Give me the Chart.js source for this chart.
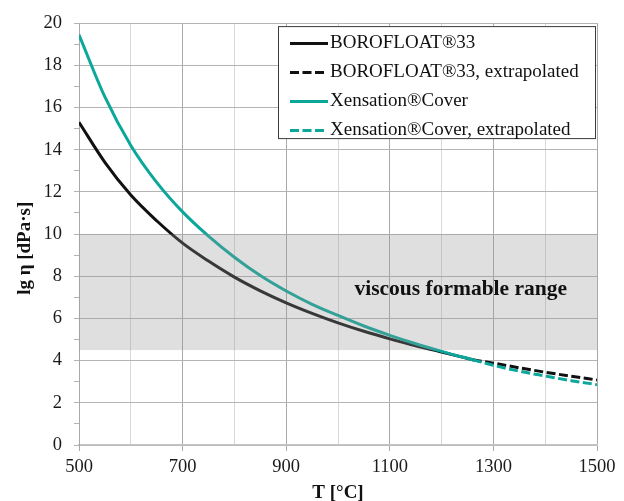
<!DOCTYPE html>
<html>
<head>
<meta charset="utf-8">
<script src="https://cdn.jsdelivr.net/npm/chart.js@4.4.1/dist/chart.umd.min.js"></script>
<style>
  html, body { margin: 0; padding: 0; background: #fff; }
  #wrap { width: 624px; height: 501px; }
</style>
</head>
<body>
<div id="wrap"><canvas id="viscChart" width="624" height="501"></canvas></div>
<script>
// Data
const tempsMeasured = [500, 550, 600, 650, 700, 750, 800, 850, 900, 950, 1000, 1050, 1100, 1150, 1200, 1260];
const boroMeasured = [15.3, 13.4, 11.85, 10.63, 9.57, 8.72, 7.96, 7.31, 6.74, 6.24, 5.79, 5.39, 5.03, 4.7, 4.41, 4.04];
const xenMeasured = [19.45, 16.5, 14.2, 12.45, 11.05, 9.9, 8.9, 8.03, 7.3, 6.67, 6.14, 5.64, 5.2, 4.8, 4.44, 4.04];

const tempsExtrap = [1260, 1300, 1350, 1400, 1450, 1500];
const boroExtrap = [4.04, 3.88, 3.66, 3.45, 3.26, 3.08];
const xenExtrap = [4.04, 3.78, 3.5, 3.27, 3.05, 2.86];

const seriesLabels = [
  "BOROFLOAT®33",
  "BOROFLOAT®33, extrapolated",
  "Xensation®Cover",
  "Xensation®Cover, extrapolated",
];
const formableRange = [4.5, 10];
const xTickLabels = [500, 700, 900, 1100, 1300, 1500];
const yTickLabels = [0, 2, 4, 6, 8, 10, 12, 14, 16, 18, 20];

// Styles
const SERIF = '"Liberation Serif", "Times New Roman", serif';
const BLACK = "#111111";
const TEAL = "#0ba79b";
const DASH = [9, 3.5];

function toPoints(xs, ys) {
  return xs.map((x, i) => ({ x: x, y: ys[i] }));
}

// Grey band + its label, laid over the curves
const bandPlugin = {
  id: "band",
  afterDatasetsDraw(chart) {
    const { ctx, chartArea, scales } = chart;
    const yTop = scales.y.getPixelForValue(formableRange[1]);
    const yBot = scales.y.getPixelForValue(formableRange[0]);
    ctx.save();
    ctx.fillStyle = "rgba(150,150,150,0.3)";
    ctx.fillRect(chartArea.left, yTop, chartArea.right - chartArea.left, yBot - yTop);
    ctx.font = "bold 21.5px " + SERIF;
    ctx.fillStyle = "#111";
    ctx.textAlign = "center";
    ctx.textBaseline = "middle";
    ctx.fillText("viscous formable range", scales.x.getPixelForValue(1237), scales.y.getPixelForValue(7.35));
    ctx.restore();
  },
};

// Boxed legend in the top right corner
const legendPlugin = {
  id: "boxLegend",
  afterDraw(chart) {
    const { ctx, chartArea } = chart;
    const w = 318, h = 113;
    const left = chartArea.right - 1 - w;
    const top = chartArea.top + 3;
    ctx.save();
    ctx.fillStyle = "#fff";
    ctx.fillRect(left, top, w, h);
    ctx.strokeStyle = "#3a3a3a";
    ctx.lineWidth = 1;
    ctx.strokeRect(left + 0.5, top + 0.5, w - 1, h - 1);
    ctx.font = "19px " + SERIF;
    ctx.textBaseline = "middle";
    chart.data.datasets.forEach((ds, i) => {
      const y = Math.round(top + 17 + i * 28.9) + 0.5;
      ctx.strokeStyle = ds.borderColor;
      ctx.lineWidth = 3;
      ctx.lineCap = "butt";
      ctx.setLineDash(ds.borderDash || []);
      ctx.beginPath();
      ctx.moveTo(left + 12, y);
      ctx.lineTo(left + (ds.borderDash ? 46 : 50), y);
      ctx.stroke();
      ctx.setLineDash([]);
      ctx.fillStyle = "#111";
      ctx.fillText(ds.label, left + 52, y);
    });
    ctx.restore();
  },
};

new Chart(document.getElementById("viscChart"), {
  type: "line",
  data: {
    datasets: [
      { label: seriesLabels[0], data: toPoints(tempsMeasured, boroMeasured), borderColor: BLACK, order: 3 },
      { label: seriesLabels[1], data: toPoints(tempsExtrap, boroExtrap), borderColor: BLACK, borderDash: DASH, order: 2 },
      { label: seriesLabels[2], data: toPoints(tempsMeasured, xenMeasured), borderColor: TEAL, order: 1 },
      { label: seriesLabels[3], data: toPoints(tempsExtrap, xenExtrap), borderColor: TEAL, borderDash: DASH, order: 0 },
    ],
  },
  options: {
    responsive: false,
    animation: false,
    layout: { padding: { top: 22, right: 27, bottom: 0, left: 0 } },
    elements: {
      point: { radius: 0 },
      line: { borderWidth: 3, cubicInterpolationMode: "monotone", borderCapStyle: "butt", fill: false },
    },
    plugins: { legend: { display: false }, tooltip: { enabled: false } },
    scales: {
      x: {
        type: "linear",
        min: 500,
        max: 1500,
        ticks: {
          stepSize: 100,
          autoSkip: false,
          maxRotation: 0,
          padding: 5,
          color: "#1a1a1a",
          font: { family: SERIF, size: 18.5 },
          callback: (v) => (xTickLabels.includes(v) ? String(v) : ""),
        },
        grid: {
          color: (c) => (c.tick && xTickLabels.includes(c.tick.value) ? "#a9a9a9" : "#d8d8d8"),
          tickColor: (c) => (c.tick && xTickLabels.includes(c.tick.value) ? "#a9a9a9" : "rgba(0,0,0,0)"),
          tickLength: 6,
        },
        border: { color: "#c4c4c4", width: 1.5 },
        title: {
          display: true,
          text: "T [°C]",
          color: "#111",
          font: { family: SERIF, size: 19, weight: "bold", lineHeight: 0.8 },
          padding: 0,
        },
        afterFit: (s) => { s.height = 56; },
      },
      y: {
        min: 0,
        max: 20,
        ticks: {
          stepSize: 1,
          autoSkip: false,
          padding: 12,
          color: "#1a1a1a",
          font: { family: SERIF, size: 18.5 },
          callback: (v) => (yTickLabels.includes(v) ? String(v) : ""),
        },
        grid: {
          color: (c) => (c.tick && yTickLabels.includes(c.tick.value) ? "#b4b4b4" : "rgba(0,0,0,0)"),
          tickColor: "#b4b4b4",
          tickLength: 5,
        },
        border: { color: "#a9a9a9" },
        title: {
          display: true,
          text: "lg η [dPa·s]" + "\u00a0".repeat(6),
          color: "#111",
          font: { family: SERIF, size: 19, weight: "bold" },
          padding: { top: 14, bottom: 0 },
        },
        afterFit: (s) => { s.width = 79; },
      },
    },
  },
  plugins: [bandPlugin, legendPlugin],
});
</script>
</body>
</html>
